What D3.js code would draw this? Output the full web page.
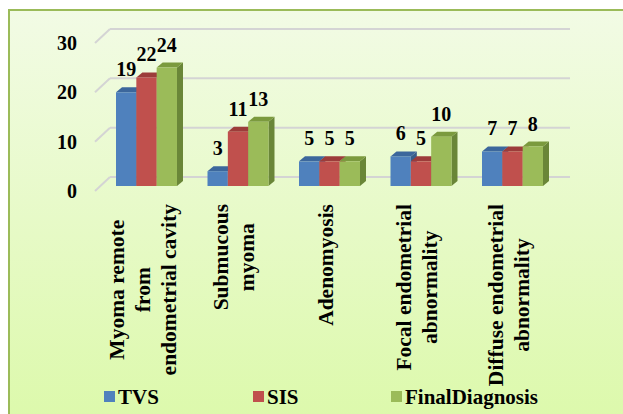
<!DOCTYPE html>
<html>
<head>
<meta charset="utf-8">
<script src="https://cdn.jsdelivr.net/npm/d3@7"></script>
<style>
  body { margin: 0; background: #fff; }
</style>
</head>
<body>
<div id="chart"></div>
<script>
const w = 623;
const h = 414;

const categories = [
  'Myoma remote\nfrom\nendometrial cavity',
  'Submucous\nmyoma',
  'Adenomyosis',
  'Focal endometrial\nabnormality',
  'Diffuse endometrial\nabnormality'
];
const series = ['TVS', 'SIS', 'FinalDiagnosis'];
const tvs = [19, 3, 5, 6, 7];
const sis = [22, 11, 5, 5, 7];
const finalDiagnosis = [24, 13, 5, 10, 8];
const yTicks = [0, 10, 20, 30];

const values = [tvs, sis, finalDiagnosis];
const colors = {
  TVS: { front: '#4f81bd', top: '#3c679c', side: '#385d8a' },
  SIS: { front: '#c0504d', top: '#9c3c3a', side: '#8c3836' },
  FinalDiagnosis: { front: '#9bbb59', top: '#7b9a3e', side: '#6a8638' }
};

// 3d offsets: back wall vs front plane, and bar depth
const wallDx = 15, wallDy = -14;
const barDx = 6, barDy = -5, barLift = 5;

const svg = d3.select('#chart').append('svg')
  .attr('width', w).attr('height', h)
  .attr('font-family', 'Liberation Serif, DejaVu Serif, serif')
  .attr('font-weight', 'bold');

const grad = svg.append('defs').append('linearGradient')
  .attr('id', 'bg').attr('x1', 0).attr('y1', 0).attr('x2', 0).attr('y2', 1);
grad.append('stop').attr('offset', '0%').attr('stop-color', '#f2fbe5');
grad.append('stop').attr('offset', '100%').attr('stop-color', '#dbf9a8');

svg.append('rect')
  .attr('x', 9).attr('y', 10).attr('width', w + 20).attr('height', h + 20)
  .attr('fill', 'url(#bg)')
  .attr('stroke', '#9bbb59').attr('stroke-width', 2);

const yScale = d3.scaleLinear().domain([0, 30]).range([191, 43]);

const xScale = d3.scaleBand()
  .domain(categories)
  .range([100.75, 558.25])
  .paddingInner(1 / 3)
  .paddingOuter(1 / 6);

const xSub = d3.scaleBand().domain(series).range([0, xScale.bandwidth()]);

// gridlines on the back wall + floor diagonals
const grid = svg.append('g');
yTicks.forEach((t) => {
  const y = yScale(t);
  grid.append('line')
    .attr('x1', 95).attr('y1', y).attr('x2', 95 + wallDx).attr('y2', y + wallDy)
    .attr('stroke', '#d4d4d4').attr('stroke-width', 2);
  grid.append('line')
    .attr('x1', 95 + wallDx).attr('y1', y + wallDy).attr('x2', 570).attr('y2', y + wallDy)
    .attr('stroke', '#d4d4d4').attr('stroke-width', 2);
});

// y tick labels
svg.append('g').selectAll('text')
  .data(yTicks)
  .enter()
  .append('text')
  .attr('x', 77)
  .attr('y', (d) => yScale(d))
  .attr('text-anchor', 'end')
  .attr('dominant-baseline', 'central')
  .style('font-size', '20px')
  .text((d) => d);

// bars
const bars = [];
categories.forEach((c, i) => {
  series.forEach((s, j) => {
    bars.push({ cat: c, series: s, value: values[j][i] });
  });
});

const barG = svg.append('g');
bars.forEach((d) => {
  const x0 = xScale(d.cat) + xSub(d.series);
  const x1 = x0 + xSub.bandwidth();
  const yb = yScale(0) - barLift;
  const yt = yScale(d.value) - barLift;
  const col = colors[d.series];
  const g = barG.append('g');
  g.append('path')
    .attr('d', `M${x1},${yb}L${x1 + barDx},${yb + barDy}L${x1 + barDx},${yt + barDy}L${x1},${yt}Z`)
    .attr('fill', col.side);
  g.append('path')
    .attr('d', `M${x0},${yt}L${x0 + barDx},${yt + barDy}L${x1 + barDx},${yt + barDy}L${x1},${yt}Z`)
    .attr('fill', col.top);
  g.append('rect')
    .attr('x', x0).attr('y', yt)
    .attr('width', xSub.bandwidth()).attr('height', yb - yt)
    .attr('fill', col.front);
});

// value labels
svg.append('g').selectAll('text')
  .data(bars)
  .enter()
  .append('text')
  .attr('x', (d) => xScale(d.cat) + xSub(d.series) + xSub.bandwidth() / 2)
  .attr('y', (d) => yScale(d.value) - barLift - 16)
  .attr('text-anchor', 'middle')
  .style('font-size', '20px')
  .text((d) => d.value);

// category labels, rotated, end-aligned at top
const lineGap = 26;
categories.forEach((c) => {
  const lines = c.split('\n');
  const cx = xScale(c) + xScale.bandwidth() / 2 - 4;
  const g = svg.append('g')
    .attr('transform', `translate(${cx},204) rotate(-90)`);
  const texts = lines.map((ln, k) =>
    g.append('text')
      .attr('y', (k - (lines.length - 1) / 2) * lineGap)
      .attr('text-anchor', 'middle')
      .attr('dominant-baseline', 'central')
      .style('font-size', '21.5px')
      .text(ln)
  );
  const maxLen = d3.max(texts, (t) => t.node().getComputedTextLength());
  texts.forEach((t) => t.attr('x', -maxLen / 2));
});

// legend
const legendX = [104, 253, 391];
const legend = svg.append('g');
series.forEach((s, i) => {
  legend.append('rect')
    .attr('x', legendX[i]).attr('y', 391)
    .attr('width', 11).attr('height', 11)
    .attr('fill', colors[s].front);
  legend.append('text')
    .attr('x', legendX[i] + 14).attr('y', 404)
    .style('font-size', '21px')
    .text(s);
});
</script>
</body>
</html>
